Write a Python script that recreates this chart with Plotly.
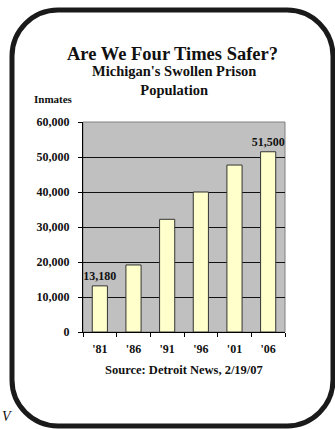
import plotly.graph_objects as go

years = ["'81", "'86", "'91", "'96", "'01", "'06"]
inmates = [13180, 19150, 32200, 40000, 47700, 51500]
bar_labels = ["13,180", "", "", "", "", "51,500"]
y_ticks = [0, 10000, 20000, 30000, 40000, 50000, 60000]
y_tick_labels = ["0", "10,000", "20,000", "30,000", "40,000", "50,000", "60,000"]

W, H = 335, 429
ML, MR, MT, MB = 83, 50, 122, 97
PW, PH = W - ML - MR, H - MT - MB

def px(x):
    return (x - ML) / PW

def py(y):
    return (H - MB - y) / PH

FONT = "Liberation Serif"

fig = go.Figure()
fig.add_trace(go.Bar(
    x=years, y=inmates, width=0.45,
    marker=dict(color="#FFFFCC", line=dict(color="#333333", width=1)),
    text=[f"<b>{t}</b>" for t in bar_labels], textposition="outside", cliponaxis=False,
    constraintext="none",
    textfont=dict(family=FONT, size=12, color="#111111"),
    hoverinfo="skip",
))

# rounded frame
x0, x1, y0, y1, r = 12, 333, 10, 426, 46
k = 0.45
path = (
    f"M {px(x0 + r)} {py(y0)} L {px(x1 - r)} {py(y0)} "
    f"C {px(x1 - r * k)} {py(y0)} {px(x1)} {py(y0 + r * k)} {px(x1)} {py(y0 + r)} "
    f"L {px(x1)} {py(y1 - r)} "
    f"C {px(x1)} {py(y1 - r * k)} {px(x1 - r * k)} {py(y1)} {px(x1 - r)} {py(y1)} "
    f"L {px(x0 + r)} {py(y1)} "
    f"C {px(x0 + r * k)} {py(y1)} {px(x0)} {py(y1 - r * k)} {px(x0)} {py(y1 - r)} "
    f"L {px(x0)} {py(y0 + r)} "
    f"C {px(x0)} {py(y0 + r * k)} {px(x0 + r * k)} {py(y0)} {px(x0 + r)} {py(y0)} Z"
)
shapes = [dict(type="path", xref="paper", yref="paper", path=path,
               line=dict(color="#1a1a1a", width=5), layer="above")]
shapes.append(dict(type="rect", xref="paper", yref="paper", x0=0, y0=0, x1=1, y1=1,
                   line=dict(color="#808080", width=1), layer="below"))

def ann(text, x, y, size, bold=True, italic=False, xanchor="center"):
    t = f"<b>{text}</b>" if bold else text
    if italic:
        t = f"<i>{t}</i>"
    return dict(text=t, x=px(x), y=py(y), xref="paper", yref="paper",
                showarrow=False, xanchor=xanchor, yanchor="middle",
                font=dict(family=FONT, size=size, color="#111111"))

annotations = [
    ann("Are We Four Times Safer?", 172, 54, 18.5),
    dict(text="<b>Michigan's Swollen Prison<br>Population</b>", x=px(174), y=py(80),
         xref="paper", yref="paper", showarrow=False, xanchor="center", yanchor="middle",
         font=dict(family=FONT, size=14.5, color="#111111")),
    ann("Inmates", 32, 99, 11, xanchor="left"),
    ann("Source: Detroit News, 2/19/07", 184, 370, 12.5),
    ann("V", 7, 416, 14, bold=False, italic=True),
]

fig.update_layout(
    width=W, height=H,
    margin=dict(l=ML, r=MR, t=MT, b=MB),
    paper_bgcolor="white", plot_bgcolor="#C0C0C0",
    showlegend=False,
    shapes=shapes, annotations=annotations,
    xaxis=dict(type="category", range=[-0.5, 5.5], tickson="boundaries",
               ticks="outside", ticklen=4, tickcolor="black", showline=True,
               linecolor="black", linewidth=1, showgrid=False,
               ticklabelstandoff=6,
               tickfont=dict(family=FONT, size=12, color="#111111"),
               tickprefix="<b>", ticksuffix="</b>", fixedrange=True),
    yaxis=dict(range=[0, 60000], tickvals=y_ticks, ticktext=[f"<b>{t}</b>" for t in y_tick_labels],
               ticks="outside", ticklen=4, tickcolor="black", showline=True,
               linecolor="black", linewidth=1, gridcolor="#111111", gridwidth=1,
               zeroline=False, ticklabelstandoff=6,
               tickfont=dict(family=FONT, size=12, color="#111111"), fixedrange=True),
)

fig.write_html("out.html", config={"displayModeBar": False})
